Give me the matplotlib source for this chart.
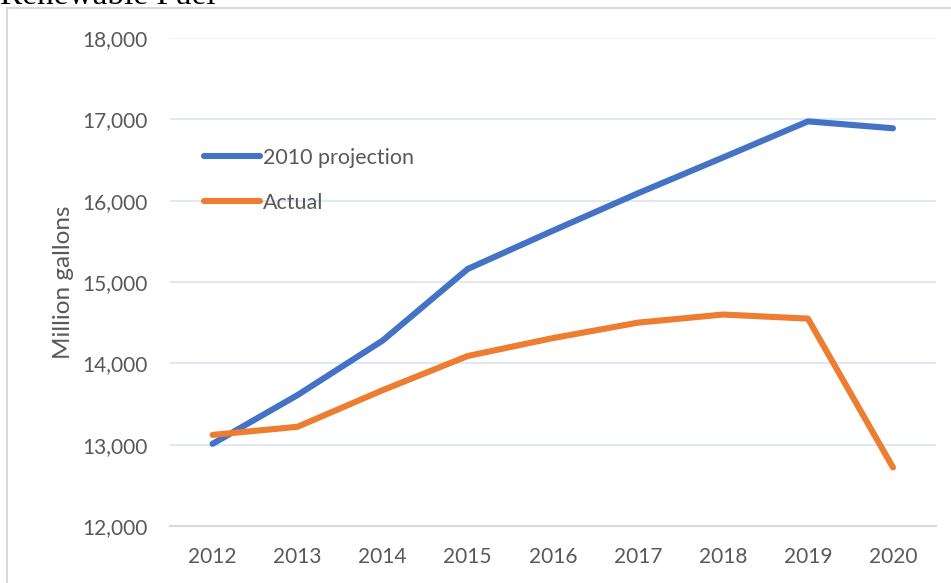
import matplotlib
matplotlib.use("Agg")
import matplotlib.pyplot as plt
from matplotlib.patches import Rectangle
from matplotlib.ticker import FuncFormatter

years = ["2012", "2013", "2014", "2015", "2016", "2017", "2018", "2019", "2020"]
projection_2010 = [13010, 13610, 14280, 15160, 15630, 16090, 16530, 16975, 16890]
actual = [13120, 13220, 13670, 14090, 14310, 14500, 14600, 14550, 12720]
y_ticks = [12000, 13000, 14000, 15000, 16000, 17000, 18000]

plt.rcParams['font.family'] = ['Lato', 'DejaVu Sans']

W, H = 951, 583
fig = plt.figure(figsize=(W / 100, H / 100), dpi=100)
ax = fig.add_axes([170 / W, 1 - 526 / H, (935.5 - 170) / W, (526 - 38) / H])

x = list(range(len(years)))
ax.plot(x, projection_2010, color="#4472C4", lw=4.4, solid_capstyle="round",
        solid_joinstyle="round", label="2010 projection", zorder=3)
ax.plot(x, actual, color="#ED7D31", lw=4.4, solid_capstyle="round",
        solid_joinstyle="round", label="Actual", zorder=3)

ax.set_xlim(-0.5, len(years) - 0.5)
ax.set_ylim(12000, 18000)
ax.set_yticks(y_ticks)
ax.yaxis.set_major_formatter(FuncFormatter(lambda v, p: f"{int(v):,}"))
ax.set_xticks(x)
ax.set_xticklabels(years)

for v in y_ticks[1:]:
    ax.axhline(v, color="#DAE3F3" if v < 18000 else "#EEF2FA", lw=1.2, zorder=1)
for s in ["top", "right", "left"]:
    ax.spines[s].set_visible(False)
ax.spines["bottom"].set_color("#D9D9D9")
ax.spines["bottom"].set_linewidth(1.5)

ax.tick_params(axis="both", length=0, labelsize=15, labelcolor="#595959")
ax.tick_params(axis="y", pad=16)
ax.tick_params(axis="x", pad=15)
ax.set_ylabel("Million gallons", fontsize=17.5, color="#595959", labelpad=6)

leg = ax.legend(loc="upper left", bbox_to_anchor=(204 / W, 1 - 148 / H),
                bbox_transform=fig.transFigure, frameon=False, fontsize=15.5,
                handlelength=2.6, handletextpad=0.15, labelspacing=1.15,
                borderpad=0, borderaxespad=0)
for t in leg.get_texts():
    t.set_color("#595959")

# outer chart border
fig.patches.append(Rectangle((7 / W, -0.05), 1.1, 1 - 8 / H + 0.05,
                             transform=fig.transFigure, fill=False,
                             edgecolor="#D9D9D9", lw=1.5))

# clipped heading from the page above
fig.text(0.0, 1 - 4 / H, "Renewable Fuel", family="Liberation Serif",
         fontsize=24, color="#000000", va="baseline", ha="left")

fig.savefig("out.png", dpi=100)
